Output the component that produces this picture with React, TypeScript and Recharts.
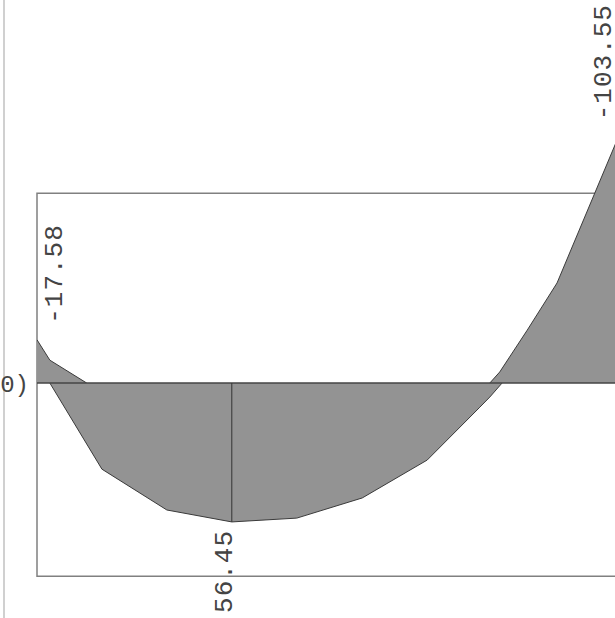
import {
  Area,
  ComposedChart,
  ReferenceArea,
  ReferenceDot,
  ReferenceLine,
  XAxis,
  YAxis,
} from 'recharts'

// station along the member (m)
const stations = [0, 0.22, 0.85, 1.11, 2.22, 3.33, 4.44, 5.56, 6.67, 7.57, 7.74, 7.91, 7.95, 8.38, 8.89, 10]
// hogging part at the left support
const hogLeft = [-17.58, -9.3, 0, null, null, null, null, null, null, null, null, null, null, null, null, null]
// sagging part of the span
const sag = [null, 0, null, 35.0, 51.6, 56.45, 54.9, 46.7, 31.3, 9.8, 5.7, null, 0, null, null, null]
// hogging part at the right support
const hogRight = [null, null, null, null, null, null, null, null, null, null, 0, -4.5, null, -21.5, -40.7, -103.55]

const peaks = [
  { x: 0, y: -17.58, text: '-17.58', dx: 25, dy: -16 },
  { x: 3.33, y: 56.45, text: '56.45', dx: 0, dy: 91 },
  { x: 10, y: -103.55, text: '-103.55', dx: -11, dy: -8 },
]

const rows = stations.map((x, i) => ({
  x,
  hogLeft: hogLeft[i],
  sag: sag[i],
  hogRight: hogRight[i],
}))

const FONT = '"Liberation Mono", "DejaVu Sans Mono", monospace'
const FILL = '#939393'
const EDGE = '#3a3a3a'

function rotatedLabel(text: string, dx: number, dy: number) {
  return (props: any) => {
    const vb = props.viewBox || {}
    const cx = (vb.x ?? 0) + (vb.width ?? 0) / 2 + dx
    const cy = (vb.y ?? 0) + (vb.height ?? 0) / 2 + dy
    return (
      <text
        x={cx}
        y={cy}
        transform={`rotate(-90, ${cx}, ${cy})`}
        textAnchor="start"
        fontFamily={FONT}
        fontSize={26}
        letterSpacing={1}
        fill="#444"
      >
        {text}
      </text>
    )
  }
}

export default function App() {
  return (
    <div style={{ position: 'absolute', left: 0, top: 0, width: 615, height: 618, overflow: 'hidden', background: '#fff' }}>
      <ComposedChart
        width={622}
        height={618}
        data={rows}
        margin={{ top: 0, right: 0, bottom: 0, left: 37 }}
      >
        <XAxis dataKey="x" type="number" domain={[0, 10]} hide allowDataOverflow />
        <YAxis type="number" domain={[-155.7, 95.5]} reversed hide allowDataOverflow />
        <ReferenceArea
          x1={0}
          x2={10}
          y1={-77.2}
          y2={78.5}
          fill="none"
          stroke="#808080"
          strokeWidth={1.5}
          ifOverflow="visible"
        />
        <ReferenceLine x={-0.564} stroke="#d0d0d0" strokeWidth={2} ifOverflow="visible" />
        <Area
          dataKey="hogLeft"
          type="linear"
          baseValue={0}
          connectNulls
          fill={FILL}
          fillOpacity={1}
          stroke={EDGE}
          strokeWidth={1}
          isAnimationActive={false}
        />
        <Area
          dataKey="sag"
          type="linear"
          baseValue={0}
          connectNulls
          fill={FILL}
          fillOpacity={1}
          stroke={EDGE}
          strokeWidth={1}
          isAnimationActive={false}
        />
        <Area
          dataKey="hogRight"
          type="linear"
          baseValue={0}
          connectNulls
          fill={FILL}
          fillOpacity={1}
          stroke={EDGE}
          strokeWidth={1}
          isAnimationActive={false}
        />
        <ReferenceLine
          y={0}
          stroke="#444"
          strokeWidth={1.5}
          label={{ value: '0)', position: 'left', offset: 8, fontFamily: FONT, fontSize: 24, fill: '#444' }}
        />
        <ReferenceLine
          segment={[
            { x: 3.33, y: 0 },
            { x: 3.33, y: 56.45 },
          ]}
          stroke="#333"
          strokeWidth={1}
        />
        {peaks.map((p) => (
          <ReferenceDot
            key={p.text}
            x={p.x}
            y={p.y}
            r={1}
            fill="none"
            stroke="none"
            ifOverflow="visible"
            label={rotatedLabel(p.text, p.dx, p.dy)}
          />
        ))}
      </ComposedChart>
    </div>
  )
}
